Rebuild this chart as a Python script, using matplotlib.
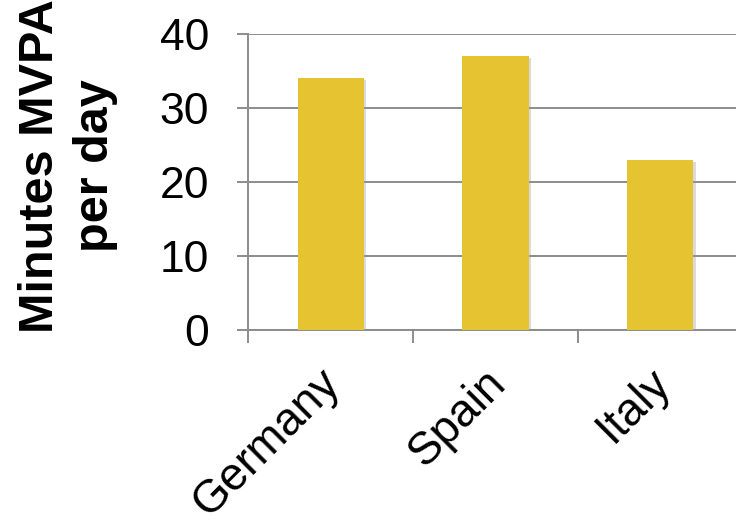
import matplotlib
matplotlib.use("Agg")
import matplotlib.pyplot as plt
import matplotlib.patheffects as pe
from matplotlib.transforms import ScaledTranslation

countries = ["Germany", "Spain", "Italy"]
mvpa_minutes = [34, 37, 23]
y_ticks = [0, 10, 20, 30, 40]

bar_color = "#E6C431"
grid_color = "#8C8C8C"

plt.rcParams["font.family"] = ["Liberation Sans", "DejaVu Sans"]

fig = plt.figure(figsize=(7.36, 5.24), dpi=100)
ax = fig.add_axes([248 / 736, 1 - 330 / 524, 495 / 736, 296 / 524])

positions = [i + 0.5 for i in range(len(countries))]
bars = ax.bar(positions, mvpa_minutes, width=0.4, color=bar_color, zorder=3)
for b in bars:
    b.set_path_effects([pe.SimplePatchShadow(offset=(1.5, -1.5), shadow_rgbFace="#999999", alpha=0.35),
                        pe.Normal()])

ax.set_xlim(0, len(countries))
ax.set_ylim(0, 40)
ax.set_yticks(y_ticks)
ax.set_yticklabels([str(v) for v in y_ticks], fontsize=32)
ax.yaxis.grid(True, color=grid_color, linewidth=1.4, zorder=0)
ax.set_axisbelow(True)

# category boundaries carry the tick marks, labels sit at the centres
ax.set_xticks(range(len(countries) + 1))
ax.set_xticklabels([""] * (len(countries) + 1))
ax.set_xticks(positions, minor=True)
ax.set_xticklabels(countries, minor=True, fontsize=33, rotation=45,
                   ha="right", va="top", rotation_mode="anchor")
ax.tick_params(axis="x", which="minor", length=0, pad=22)
ax.tick_params(axis="x", which="major", length=9.5, width=1.4, color=grid_color, direction="out")
ax.tick_params(axis="y", length=8, width=1.4, color=grid_color, pad=20)

# nudge the rotated country names left so they end just past the centre
shift = ScaledTranslation(-12 / 100, 0, fig.dpi_scale_trans)
for lbl in ax.get_xticklabels(minor=True):
    lbl.set_transform(lbl.get_transform() + shift)

for side in ["top", "right"]:
    ax.spines[side].set_visible(False)
for side in ["left", "bottom"]:
    ax.spines[side].set_color(grid_color)
    ax.spines[side].set_linewidth(1.4)

fig.text(68 / 736, 1 - 166 / 524, "Minutes MVPA\nper day", fontsize=35,
         fontweight="bold", rotation=90, ha="center", va="center",
         multialignment="center", linespacing=1.3)

fig.savefig("out.png", dpi=100)
